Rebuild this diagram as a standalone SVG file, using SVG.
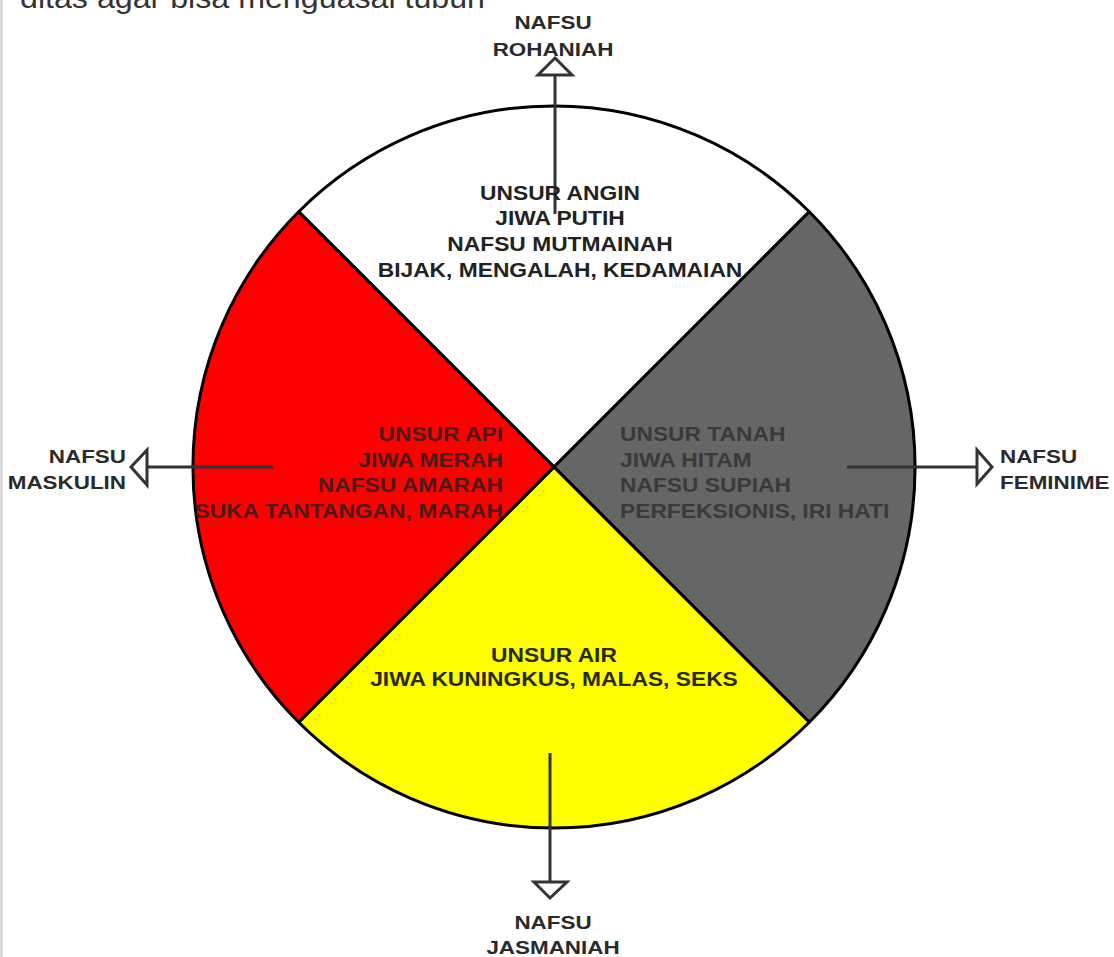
<svg xmlns="http://www.w3.org/2000/svg" width="1114" height="957" viewBox="0 0 1114 957">
<style>
.sec{stroke:#000;stroke-width:3;stroke-linejoin:round}
.lbl{font-family:"Liberation Sans",Arial,sans-serif;font-weight:bold;font-size:19px;fill:#2a2a2a}
.in{font-family:"Liberation Sans",Arial,sans-serif;font-weight:bold;font-size:20px}
.conn{stroke:#333;stroke-width:3;fill:none}
.head{stroke:#333;stroke-width:3;fill:#fff;stroke-linejoin:miter}
</style>
<rect width="1114" height="957" fill="#fff"/>
<line x1="1.5" y1="0" x2="1.5" y2="957" stroke="#c8c8c8" stroke-width="2"/>
<text x="20" y="8" font-family="Liberation Sans,Arial,sans-serif" font-size="30" fill="#333" textLength="465" lengthAdjust="spacingAndGlyphs">ditas agar bisa menguasai tubuh</text>

<g id="wheel">
<g id="angin">
<path class="sec" fill="#fff" d="M554,467 L298.7,211.7 A361,361 0 0 1 809.3,211.7 Z"/>
</g>
<g id="tanah">
<path class="sec" fill="#666" d="M554,467 L809.3,211.7 A361,361 0 0 1 809.3,722.3 Z"/>
</g>
<g id="air">
<path class="sec" fill="#ffff00" d="M554,467 L809.3,722.3 A361,361 0 0 1 298.7,722.3 Z"/>
</g>
<g id="api">
<path class="sec" fill="#ff0000" d="M554,467 L298.7,722.3 A361,361 0 0 1 298.7,211.7 Z"/>
</g>
</g>

<g id="connectors">
<line class="conn" x1="555" y1="214" x2="555" y2="75"/>
<polygon class="head" points="555,58 572,75 538,75"/>
<line class="conn" x1="550" y1="753" x2="550" y2="882"/>
<polygon class="head" points="550,898 567,882 534,882"/>
<line class="conn" x1="273" y1="467" x2="147" y2="467"/>
<polygon class="head" points="131,467 147,450 147,485"/>
<line class="conn" x1="847" y1="467" x2="977" y2="467"/>
<polygon class="head" points="992,467 977,450 977,484"/>
</g>

<g id="text-angin" class="in" fill="#222" text-anchor="middle" transform="translate(560,0) scale(1.14,1)">
<text x="0" y="200">UNSUR ANGIN</text>
<text x="0" y="225">JIWA PUTIH</text>
<text x="0" y="251">NAFSU MUTMAINAH</text>
<text x="0" y="277">BIJAK, MENGALAH, KEDAMAIAN</text>
</g>
<g id="text-api" class="in" fill="#4a1a1a" text-anchor="end" transform="translate(503,0) scale(1.14,1)">
<text x="0" y="441">UNSUR API</text>
<text x="0" y="467">JIWA MERAH</text>
<text x="0" y="492">NAFSU AMARAH</text>
<text x="0" y="518">SUKA TANTANGAN, MARAH</text>
</g>
<g id="text-tanah" class="in" fill="#3a3a3a" text-anchor="start" transform="translate(620,0) scale(1.14,1)">
<text x="0" y="441">UNSUR TANAH</text>
<text x="0" y="467">JIWA HITAM</text>
<text x="0" y="492">NAFSU SUPIAH</text>
<text x="0" y="518">PERFEKSIONIS, IRI HATI</text>
</g>
<g id="text-air" class="in" fill="#2a2a10" text-anchor="middle" transform="translate(554,0) scale(1.14,1)">
<text x="0" y="662">UNSUR AIR</text>
<text x="0" y="686">JIWA KUNINGKUS, MALAS, SEKS</text>
</g>

<g id="rohaniah" class="lbl" text-anchor="middle" transform="translate(553,0) scale(1.18,1)">
<text x="0" y="29">NAFSU</text>
<text x="0" y="56">ROHANIAH</text>
</g>
<g id="jasmaniah" class="lbl" text-anchor="middle" transform="translate(553,0) scale(1.18,1)">
<text x="0" y="929">NAFSU</text>
<text x="0" y="954">JASMANIAH</text>
</g>
<g id="maskulin" class="lbl" text-anchor="end" transform="translate(126,0) scale(1.18,1)">
<text x="0" y="463">NAFSU</text>
<text x="0" y="489">MASKULIN</text>
</g>
<g id="feminime" class="lbl" text-anchor="start" transform="translate(1000,0) scale(1.18,1)">
<text x="0" y="463">NAFSU</text>
<text x="0" y="489">FEMINIME</text>
</g>
</svg>
